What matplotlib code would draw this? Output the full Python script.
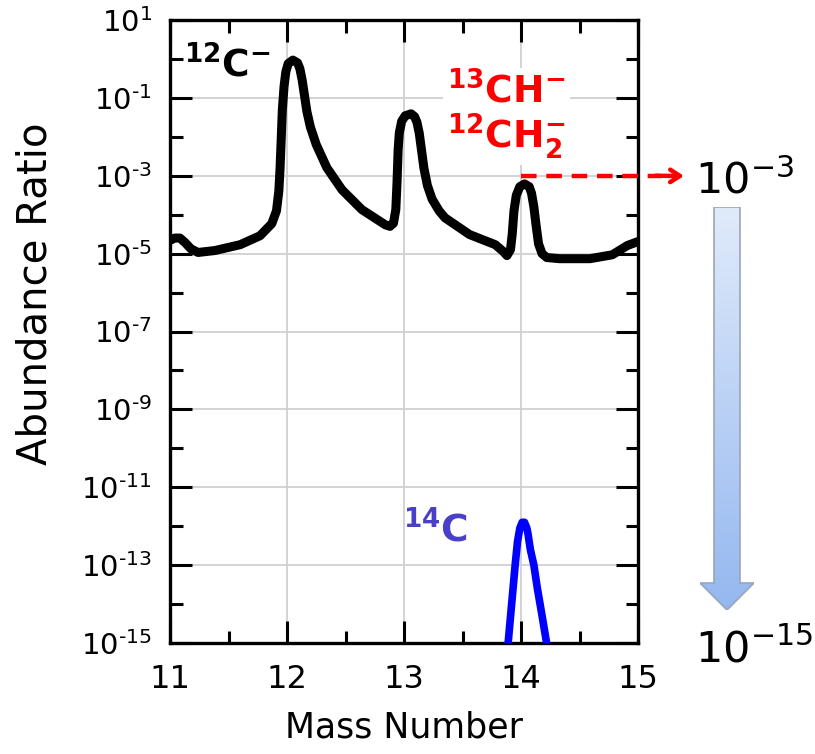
import matplotlib
matplotlib.use("Agg")
import matplotlib.pyplot as plt
import numpy as np
from matplotlib.patches import Polygon
from matplotlib.ticker import FixedLocator, FuncFormatter, NullFormatter

# black trace: mass number vs log10(abundance ratio)
mass_c = [11.0, 11.04, 11.085, 11.13, 11.18, 11.24, 11.385, 11.60, 11.77, 11.87,
          11.91, 11.93, 11.94, 11.95, 11.96, 11.975, 11.99, 12.01, 12.05, 12.09,
          12.11, 12.13, 12.15, 12.17, 12.20, 12.25, 12.34, 12.47, 12.64, 12.84,
          12.88, 12.91, 12.93, 12.94, 12.95, 12.96, 12.98, 13.01, 13.06, 13.09,
          13.11, 13.13, 13.15, 13.17, 13.20, 13.24, 13.30, 13.35, 13.56, 13.78,
          13.85, 13.88, 13.91, 13.925, 13.94, 13.96, 13.99, 14.03, 14.07, 14.09,
          14.11, 14.13, 14.15, 14.18, 14.22, 14.33, 14.59, 14.78, 14.91, 15.0]
logab_c = [-4.66, -4.6, -4.6, -4.72, -4.88, -4.97, -4.92, -4.77, -4.54, -4.23,
           -3.9, -3.4, -2.85, -2.1, -1.31, -0.7, -0.33, -0.12, -0.03, -0.10,
           -0.25, -0.55, -0.95, -1.35, -1.75, -2.2, -2.79, -3.36, -3.87, -4.26,
           -4.3, -4.22, -3.87, -3.2, -2.33, -1.9, -1.6, -1.46, -1.41, -1.48,
           -1.62, -1.9, -2.35, -2.8, -3.25, -3.6, -3.9, -4.08, -4.51, -4.77,
           -4.95, -5.05, -4.9, -4.5, -3.9, -3.5, -3.28, -3.21, -3.28, -3.45,
           -3.8, -4.3, -4.75, -5.0, -5.1, -5.13, -5.13, -5.03, -4.79, -4.69]

# blue trace: 14C
mass_14c = [13.87, 13.89, 13.92, 13.95, 13.97, 13.99, 14.01, 14.03, 14.05, 14.06,
            14.08, 14.11, 14.14, 14.18, 14.23]
logab_14c = [-15.4, -15.0, -14.0, -13.0, -12.4, -12.05, -11.9, -11.9, -12.05, -12.2,
             -12.6, -13.0, -13.6, -14.3, -15.2]

x_ticks = [11, 12, 13, 14, 15]
y_exps = [1, -1, -3, -5, -7, -9, -11, -13, -15]
y_minor_exps = [0, -2, -4, -6, -8, -10, -12, -14]

plt.rcParams['font.family'] = 'DejaVu Sans'
plt.rcParams['mathtext.fontset'] = 'dejavusans'

fig = plt.figure(figsize=(8.15, 7.54), dpi=100)
ax = fig.add_axes([170/815, 1-643/754, 468/815, 623/754])

ax.plot(mass_c, 10**np.array(logab_c), color='black', lw=6.5,
        solid_capstyle='round', solid_joinstyle='round', zorder=3)
ax.plot(mass_14c, 10**np.array(logab_14c), color='#0000ff', lw=5.5,
        solid_capstyle='round', solid_joinstyle='round', zorder=3)

ax.set_yscale('log')
ax.set_xlim(11, 15)
ax.set_ylim(1e-15, 1e1)

ax.xaxis.set_major_locator(FixedLocator(x_ticks))
ax.xaxis.set_minor_locator(FixedLocator([11.5, 12.5, 13.5, 14.5]))
ax.yaxis.set_major_locator(FixedLocator([10.0**e for e in y_exps]))
ax.yaxis.set_minor_locator(FixedLocator([10.0**e for e in y_minor_exps]))


def yfmt(v, pos):
    e = int(round(np.log10(v)))
    if e < 0:
        return r'$10^{\text{-}%d}$' % (-e)
    return r'$10^{%d}$' % e


ax.yaxis.set_major_formatter(FuncFormatter(yfmt))
ax.yaxis.set_minor_formatter(NullFormatter())
ax.xaxis.set_major_formatter(FuncFormatter(lambda v, p: '%d' % v))

ax.grid(True, which='major', color='#d0d0d0', lw=1.3, zorder=0)
ax.tick_params(which='both', direction='in', top=True, right=True, width=2.2, color='black')
ax.tick_params(which='major', length=16)
ax.tick_params(which='minor', length=9)
ax.tick_params(axis='y', which='major', labelsize=21, pad=13)
ax.tick_params(axis='x', which='major', labelsize=23, pad=15)
for s in ax.spines.values():
    s.set_linewidth(2.4)

ax.set_xlabel('Mass Number', fontsize=25)
ax.set_ylabel('Abundance Ratio', fontsize=29)
ax.xaxis.set_label_coords(0.5, -0.108)
ax.yaxis.set_label_coords(-0.245, 0.56)

# labels of the traces
ax.text(11.12, 10**-0.46, r'$\mathbf{^{12}C^{-}}$', fontsize=27, color='black', va='baseline')
ax.text(13.37, 10**-1.13, r'$\mathbf{^{13}CH^{-}}$', fontsize=27, color='#ff0000', va='baseline',
        bbox=dict(fc='white', ec='none', pad=3), zorder=4)
ax.text(13.37, 10**-2.28, r'$\mathbf{^{12}CH_2^{-}}$', fontsize=27, color='#ff0000', va='baseline',
        bbox=dict(fc='white', ec='none', pad=3), zorder=4)
ax.text(12.99, 10**-12.38, r'$\mathbf{^{14}C}$', fontsize=27, color='#4a3fc8', va='baseline')

# red dashed pointer to the right
ax.plot([14.0, 15.2], [1e-3, 1e-3], color='red', lw=3.2, ls=(0, (3.5, 2.2)), clip_on=False, zorder=5)
ax.annotate('', xy=(684, 754-176), xycoords='figure pixels',
            xytext=(15.15, 1e-3), textcoords='data',
            arrowprops=dict(arrowstyle='->,head_length=0.7,head_width=0.45', color='red', lw=3.2,
                            shrinkA=0, shrinkB=0), annotation_clip=False)

fig.text(695/815, 1-193/754, r'$10^{-3}$', fontsize=31, va='baseline', ha='left')
fig.text(695/815, 1-662/754, r'$10^{-15}$', fontsize=31, va='baseline', ha='left')

# gradient arrow pointing down
ax2 = fig.add_axes([700/815, 1-610/754, 54/815, 403/754])
ax2.set_xlim(0, 54)
ax2.set_ylim(0, 403)
ax2.axis('off')
arrow = Polygon([(14, 403), (40, 403), (40, 27), (54, 27), (27, 0), (0, 27), (14, 27)],
                closed=True, fc='none', ec='#9aa6b8', lw=1.2, zorder=3)
ax2.add_patch(arrow)
c_top = np.array([0.88, 0.92, 0.98])
c_bot = np.array([0.58, 0.72, 0.94])
t = np.linspace(0, 1, 200)[:, None]
grad = (c_top * (1 - t) + c_bot * t)[:, None, :]
im = ax2.imshow(grad, extent=(0, 54, 0, 403), aspect='auto', origin='upper', zorder=2)
im.set_clip_path(arrow)

fig.savefig('out.png', dpi=100)
